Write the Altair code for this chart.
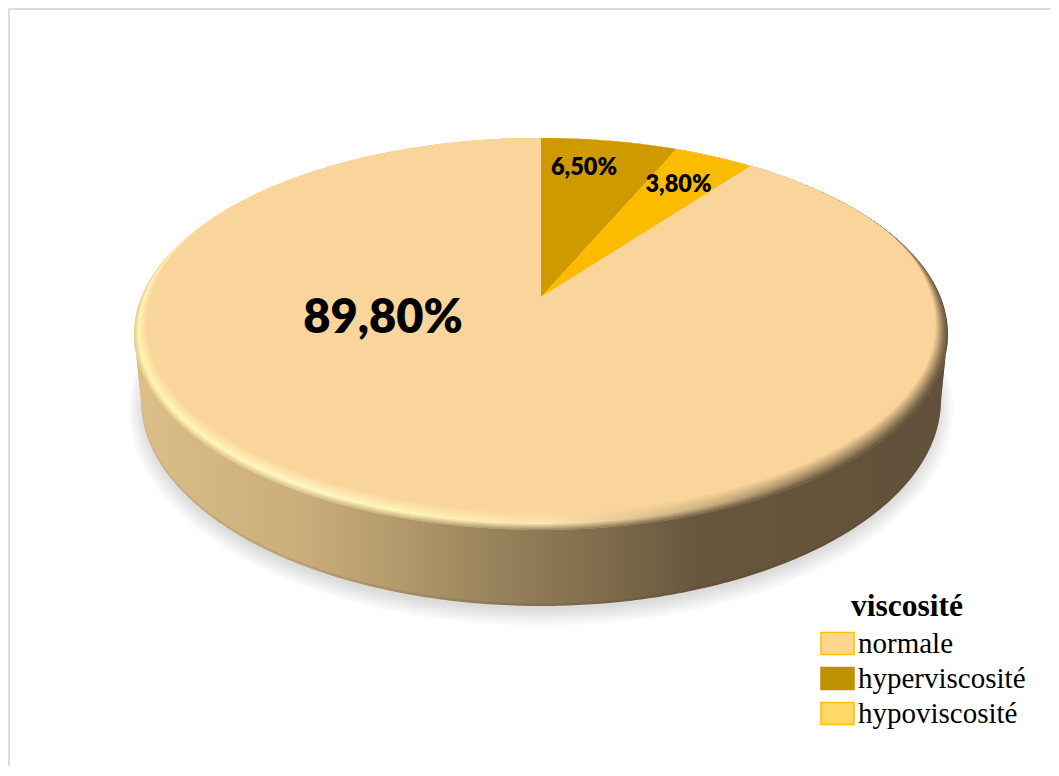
import numpy as np
import pandas as pd
import altair as alt

# --- chart values ---
categories = ["normale", "hyperviscosité", "hypoviscosité"]
values = [89.8, 6.5, 3.8]
labels = ["89,80%", "6,50%", "3,80%"]
legend_fill = ["#FFD58C", "#BF9000", "#FFD966"]
legend_stroke = ["#FFC000", "#BF9000", "#FFC000"]
slice_fill = ["#FAD59B", "#CE9A00", "#FBBC00"]

W, H = 1043, 758
FACE = "#FAD59B"
xs = alt.Scale(domain=[8, 8 + W], range=[0, W])
ys = alt.Scale(domain=[8, 8 + H], range=[0, H])
X = alt.X("x:Q", scale=xs, axis=None)
Y = alt.Y("y:Q", scale=ys, axis=None)
Y2 = alt.Y2("y2:Q")


def rgb(h):
    return np.array([int(h[i:i + 2], 16) for i in (1, 3, 5)], float)


def mix(a, b, t):
    c = rgb(a) * (1 - t) + rgb(b) * t
    return "#%02X%02X%02X" % tuple(int(round(v)) for v in c)


def grad(stops):
    return alt.Gradient(
        gradient="linear", x1=0, x2=1, y1=0, y2=0,
        stops=[alt.GradientStop(offset=float(o), color=c) for o, c in stops],
    )


def ellipse_df(cx, top, bottom, rx, n=180):
    u = -np.cos(np.linspace(0, np.pi, n))
    cy, ry = (top + bottom) / 2, (bottom - top) / 2
    s = np.sqrt(np.clip(1 - u * u, 0, 1))
    return pd.DataFrame({"x": cx + rx * u, "y": cy - ry * s, "y2": cy + ry * s})


def area(df, fill, **kw):
    return alt.Chart(df).mark_area(fill=fill, stroke=None, **kw).encode(x=X, y=Y, y2=Y2)


CX, TOP, BOT, RX = 541.0, 138.0, 530.0, 407.0
APEX_Y = 297.0
K, A, C = 0.189, 189.0, 399.7


def rim_point(frac):
    th = 2 * np.pi * np.asarray(frac)
    u, v = np.sin(th), np.cos(th)
    d = 1 + K * v
    return CX + C * u / d, APEX_Y - A * v / d


def inset_ellipse(k, step=0.7, n=200):
    """Disc face inset at the sides and the front, but hugging the back edge."""
    rx = RX - k * step
    bottom = BOT - k
    u = -np.cos(np.linspace(0, np.pi, n))
    x = CX + rx * u
    cy, ry = (TOP + bottom) / 2, (bottom - TOP) / 2
    s = np.sqrt(np.clip(1 - u * u, 0, 1))
    inner = cy - ry * s
    cy0, ry0 = (TOP + BOT) / 2, (BOT - TOP) / 2
    outer = cy0 - ry0 * np.sqrt(np.clip(1 - ((x - CX) / RX) ** 2, 0, 1))
    w = 1 - np.abs(u) ** 10
    return pd.DataFrame({"x": x, "y": (1 - w) * inner + w * outer, "y2": cy + ry * s})


layers = []

# soft shadow under the disc
for i in range(9):
    g = ellipse_df(CX, 404 - 206 - i * 0.5, 404 + 206 + i * 2.0, 398 + i * 1.8)
    layers.append(area(g, "#000000", opacity=0.016))

# side wall
u = -np.cos(np.linspace(0, np.pi, 260))
wx = CX + RX * u
wtop = (TOP + BOT) / 2 + (BOT - TOP) / 2 * np.sqrt(1 - u * u)
dx = (wx - CX) / 400.0
wbot = np.where(
    np.abs(dx) < 1,
    400 + 206 * np.sqrt(np.clip(1 - dx * dx, 0, 1)),
    334 + 66 * (1 - (np.abs(wx - CX) - 400) / 7.0),
)
wall_stops = [(134, "#DCBE88"), (300, "#CBAD7A"), (400, "#B2986B"), (541, "#8C7855"),
              (620, "#7A6849"), (700, "#67563C"), (946, "#62513A")]
wall = grad([((x - 134) / 812, c) for x, c in wall_stops])
wall_dark = grad([((x - 134) / 812, mix(c, "#3A3020", 0.12)) for x, c in wall_stops])
layers.append(area(pd.DataFrame({"x": wx, "y": wtop, "y2": wbot}), wall_dark))
layers.append(area(pd.DataFrame({"x": wx, "y": wtop, "y2": np.maximum(wtop, wbot - 2.5)}), wall))

# bevelled rim, stacked from the edge inwards
pos = [(x - 134) / 812 for x in (134, 300, 400, 541, 680, 800, 946)]
edge = ["#E6CA8E", "#DCC18A", "#C9AF7C", "#A68E65", "#7A6849", "#6A5940", "#63523A"]
peak = ["#FFF4B0", "#FFF8C4", "#FFF4B8", "#FDE5AE", "#D3B786", "#A38A63", "#8C7553"]
STEPS, PEAK = 18, 6
for k in range(STEPS):
    if k <= PEAK:
        cols = [mix(e, p, k / PEAK) for e, p in zip(edge, peak)]
    else:
        cols = [mix(p, FACE, (k - PEAK) / (STEPS - PEAK)) for p in peak]
    layers.append(area(inset_ellipse(k), grad(list(zip(pos, cols)))))
layers.append(area(inset_ellipse(STEPS), slice_fill[0]))

# the two small slices, from their shares
f1 = values[1] / 100
f2 = (values[1] + values[2]) / 100
x1, y1 = rim_point(f1)
x2, y2 = rim_point(f2)
s1 = (y1 - APEX_Y) / (x1 - CX)
s2 = (y2 - APEX_Y) / (x2 - CX)

ax, ay = rim_point(np.linspace(0, f1, 40))
layers.append(area(pd.DataFrame({"x": ax, "y": ay, "y2": APEX_Y + (ax - CX) * s1}), slice_fill[1]))

bx, by = rim_point(np.linspace(f1, f2, 30))
lx = np.linspace(CX, x1, 10)[:-1]
hx = np.concatenate([lx, bx])
hy = np.concatenate([APEX_Y + (lx - CX) * s1, by])
layers.append(area(pd.DataFrame({"x": hx, "y": hy, "y2": APEX_Y + (hx - CX) * s2}), slice_fill[2]))

# value labels
label_pos = [(383, 319, 47), (584, 168, 23.5), (678.5, 185, 23.5)]
for lab, (px, py, fs) in zip(labels, label_pos):
    layers.append(
        alt.Chart(pd.DataFrame({"label": [lab], "x": [px], "y": [py]}))
        .mark_text(font="Lato", fontWeight=800, fontSize=fs, color="#000000", align="center", baseline="middle")
        .encode(x=X, y=Y, text="label:N")
    )

# legend
layers.append(
    alt.Chart(pd.DataFrame({"t": ["viscosité"], "x": [851], "y": [607]}))
    .mark_text(font="Liberation Serif", fontWeight="bold", fontSize=31.5, color="#000000", align="left", baseline="middle")
    .encode(x=X, y=Y, text="t:N")
)
leg = alt.Legend(
    title=None, orient="none", legendX=812, legendY=618, padding=0, offset=0,
    symbolType="M-1,-0.667H1V0.667H-1Z", symbolSize=1089, symbolStrokeWidth=1.5, symbolOpacity=1,
    labelFont="Liberation Serif", labelFontSize=29, labelColor="#000000", labelOffset=3,
    rowPadding=2, labelLimit=300,
)
layers.append(
    alt.Chart(pd.DataFrame({"cat": categories, "x": [100, 100, 100], "y": [100, 100, 100]}))
    .mark_square(size=0, filled=True)
    .encode(
        x=X, y=Y,
        fill=alt.Fill("cat:N", sort=None, scale=alt.Scale(domain=categories, range=legend_fill), legend=leg),
        stroke=alt.Stroke("cat:N", sort=None, scale=alt.Scale(domain=categories, range=legend_stroke), legend=leg),
    )
)

# outer frame: top and left edges only
frame = pd.DataFrame({"x": [8, 9], "y": [9, 8], "x2": [1059, 9], "y2": [9, 776]})
layers.append(
    alt.Chart(frame).mark_rule(color="#DDDDDD", strokeWidth=2)
    .encode(x=X, y=Y, x2="x2:Q", y2=Y2)
)

chart = alt.layer(*layers).properties(
    width=W, height=H, padding=0, autosize=alt.AutoSizeParams(type="none"), background="#FFFFFF",
).configure_view(stroke=None)

chart.save("out.html", embed_options={"renderer": "svg", "actions": False})
